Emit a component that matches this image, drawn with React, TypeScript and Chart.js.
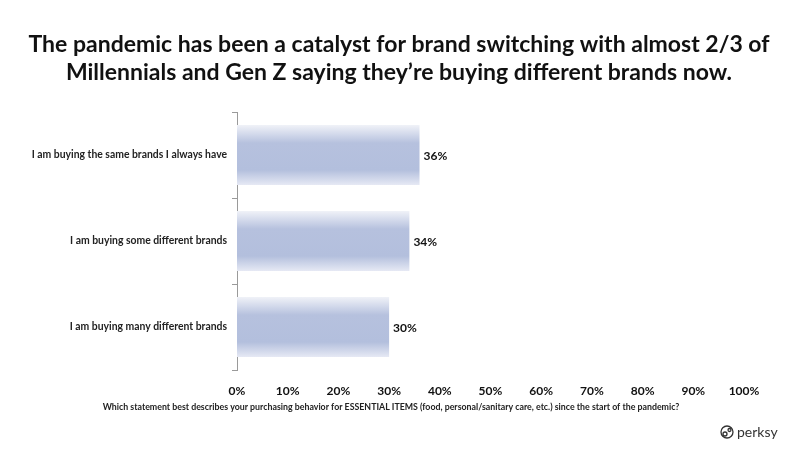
import React, { useEffect, useRef } from "react";
import { Chart, registerables } from "chart.js";

Chart.register(...registerables);

const categories = [
  "I am buying the same brands I always have",
  "I am buying some different brands",
  "I am buying many different brands",
];
const values = [36, 34, 30];
const xTicks = [0, 10, 20, 30, 40, 50, 60, 70, 80, 90, 100];
const titleLines = [
  "The pandemic has been a catalyst for brand switching with almost 2/3 of",
  "Millennials and Gen Z saying they\u2019re buying different brands now.",
];
const footnote =
  "Which statement best describes your purchasing behavior for ESSENTIAL ITEMS (food, personal/sanitary care, etc.) since the start of the pandemic?";
const brand = "perksy";

const FONT = "Lato, 'Open Sans', sans-serif";

const decorPlugin = {
  id: "decor",
  afterDraw(chart: any) {
    const ctx = chart.ctx;
    ctx.save();
    // title
    ctx.fillStyle = "#111";
    ctx.textAlign = "center";
    ctx.textBaseline = "middle";
    ctx.font = `bold 23px ${FONT}`;
    ctx.fillText(titleLines[0], 399, 45);
    ctx.fillText(titleLines[1], 399, 73);
    // footnote
    ctx.font = `bold 8.8px ${FONT}`;
    ctx.fillStyle = "#222";
    ctx.fillText(footnote, 391, 407);
    // brand
    ctx.textAlign = "left";
    ctx.font = `14px ${FONT}`;
    ctx.fillStyle = "#333";
    ctx.fillText(brand, 737, 432);
    ctx.beginPath();
    ctx.lineWidth = 1.3;
    ctx.strokeStyle = "#333";
    ctx.arc(727, 432, 6, 0, Math.PI * 2);
    ctx.stroke();
    ctx.beginPath();
    ctx.arc(725, 434, 2, 0, Math.PI * 2);
    ctx.stroke();
    ctx.beginPath();
    ctx.arc(729.5, 430, 1.5, 0, Math.PI * 2);
    ctx.stroke();
    // data labels
    const meta = chart.getDatasetMeta(0);
    ctx.font = `bold 12px ${FONT}`;
    ctx.fillStyle = "#111";
    ctx.textBaseline = "middle";
    meta.data.forEach((el: any, i: number) => {
      ctx.fillText(values[i] + "%", el.x + 4, el.y + 1);
    });
    ctx.restore();
  },
};

export default function App() {
  const ref = useRef<HTMLCanvasElement>(null);
  useEffect(() => {
    if (!ref.current) return;
    const chart = new Chart(ref.current, {
      type: "bar",
      data: {
        labels: categories,
        datasets: [
          {
            data: values,
            backgroundColor: (c: any) => {
              const ch = c.chart;
              const ys = ch.scales && ch.scales.y;
              if (!ys || c.dataIndex === undefined) return "#b5c1df";
              const center = ys.getPixelForValue(c.dataIndex);
              if (!Number.isFinite(center)) return "#b5c1df";
              const half = 30;
              const g = ch.ctx.createLinearGradient(0, center - half, 0, center + half);
              g.addColorStop(0, "#f0f2f8");
              g.addColorStop(0.3, "#b6c1de");
              g.addColorStop(0.75, "#b3bfdd");
              g.addColorStop(1, "#e6e9f4");
              return g;
            },
            borderWidth: 0,
            barPercentage: 0.7,
            categoryPercentage: 1,
          },
        ],
      },
      options: {
        indexAxis: "y",
        animation: false,
        responsive: false,
        maintainAspectRatio: false,
        layout: { padding: { top: 112, right: 56, left: 0, bottom: 0 } },
        plugins: {
          legend: { display: false },
          title: { display: false },
          tooltip: { enabled: false },
        },
        scales: {
          x: {
            min: 0,
            max: 100,
            afterFit: (s: any) => {
              s.height = 79;
            },
            afterBuildTicks: (s: any) => {
              s.ticks = xTicks.map((v) => ({ value: v }));
            },
            grid: { display: false },
            border: { display: false },
            ticks: {
              padding: 6,
              color: "#111",
              font: { family: FONT, size: 12, weight: "bold" },
              callback: (v: any) => v + "%",
            },
          },
          y: {
            afterFit: (s: any) => {
              s.width = 237;
            },
            grid: {
              offset: true,
              drawOnChartArea: false,
              drawTicks: true,
              tickLength: 5,
              color: "#9a9a9a",
            },
            border: { display: true, color: "#9a9a9a", width: 1 },
            ticks: {
              padding: 5,
              color: "#222",
              font: { family: FONT, size: 10.4, weight: "bold" },
            },
          },
        },
      },
      plugins: [decorPlugin],
    } as any);
    return () => chart.destroy();
  }, []);
  return (
    <div style={{ position: "fixed", left: 0, top: 0, width: 800, height: 449, background: "#fff" }}>
      <canvas ref={ref} width={800} height={449} style={{ width: 800, height: 449, display: "block" }} />
    </div>
  );
}
